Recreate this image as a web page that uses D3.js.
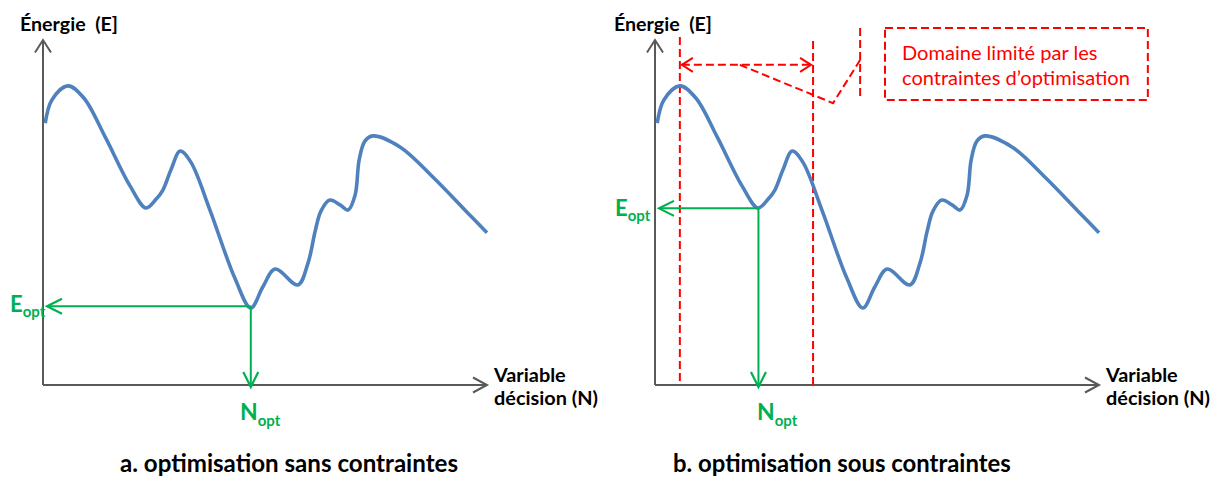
<!DOCTYPE html>
<html>
<head>
<meta charset="utf-8">
<script src="https://cdn.jsdelivr.net/npm/d3@7"></script>
<style>
  html, body { margin: 0; padding: 0; background: #fff; }
  svg { display: block; }
  text { font-family: Lato, "Open Sans", sans-serif; white-space: pre; }
</style>
</head>
<body>
<svg id="chart" width="1219" height="478"></svg>
<script>
// ---- data (N = variable de décision, E = énergie; arbitrary units 0..100) ----
const curveN = [0.5, 2.0, 5.6, 9.2, 14.0, 19.6, 23.2, 25.5, 27.0, 28.8, 30.9, 33.3, 37.6, 43.2, 46.8, 49.5, 52.3, 57.4, 59.7, 61.3, 62.6, 64.6, 66.9, 68.7, 70.3, 71.2, 72.5, 74.3, 80.4, 87.8, 95.5, 100];
const curveE = [75.9, 82.6, 86.7, 83.2, 71.9, 57.7, 51.3, 53.9, 56.5, 62.3, 67.8, 64.6, 50.7, 31.0, 22.3, 28.4, 33.6, 29.0, 35.4, 44.6, 50.4, 53.6, 52.2, 50.7, 55.1, 65.2, 70.7, 72.2, 69.0, 60.3, 50.1, 44.1];

const panels = ["a", "b"];
const panelTitles = ["a. optimisation sans contraintes", "b. optimisation sous contraintes"];
const yAxisLabel = "Énergie  (E]";
const xAxisLabel = ["Variable", "décision (N)"];
const optN = [46.8, 23.3];   // N_opt per panel
const optE = [22.8, 51.2];   // E_opt per panel

// constraint domain (panel b)
const boundN = [5.6, 35.6];
const boundTopE = [100.9, 99.7];
const rangeArrowE = 92.8;
const calloutN = [19.1, 40.1, 46.2];
const calloutE = [92.8, 81.7, 94.2];
const calloutStemN = 46.2;
const calloutStemE = [103.5, 82.6];
const boxN = [51.8, 111.0];
const boxE = [103.5, 82.6];
const boxText = ["Domaine limité par les", "contraintes d’optimisation"];

// ---- layout ----
const originX = [43, 655];
const axisLen = 444;
const yBottom = 385, yTop = 40;
const BLUE = "#4f81bd", GREEN = "#00b050", RED = "#ff0000", AXIS = "#595959";

const svg = d3.select("#chart");

function chevron(g, tx, ty, angle, len, half, color, width) {
  const bx = tx - Math.cos(angle) * len, by = ty - Math.sin(angle) * len;
  const px = -Math.sin(angle) * half, py = Math.cos(angle) * half;
  g.append("path")
    .attr("d", `M${bx + px},${by + py}L${tx},${ty}L${bx - px},${by - py}`)
    .attr("fill", "none").attr("stroke", color).attr("stroke-width", width)
    .attr("stroke-linejoin", "miter");
}

// size a text so that its width matches the reference
function fitText(g, tx, ty, str, target, weight, color) {
  const t = g.append("text").attr("x", tx).attr("y", ty)
    .attr("font-size", 20).attr("font-weight", weight).attr("fill", color).text(str);
  const w = t.node().getComputedTextLength();
  t.attr("font-size", (20 * target / w).toFixed(2));
  return t;
}

panels.forEach((p, i) => {
  const ox = originX[i];
  const x = d3.scaleLinear().domain([0, 100]).range([ox, ox + axisLen]);
  const y = d3.scaleLinear().domain([0, 100]).range([yBottom, yTop]);
  const g = svg.append("g").attr("class", "panel-" + p);

  // axes
  g.append("line").attr("x1", x(0)).attr("x2", x(0)).attr("y1", y(0)).attr("y2", y(100))
    .attr("stroke", AXIS).attr("stroke-width", 2);
  g.append("line").attr("x1", x(0)).attr("x2", x(100)).attr("y1", y(0)).attr("y2", y(0))
    .attr("stroke", AXIS).attr("stroke-width", 2);
  chevron(g, x(0), y(100), -Math.PI / 2, 12.5, 8, AXIS, 2);
  chevron(g, x(100), y(0), 0, 14, 7.5, AXIS, 2);

  // constraint domain (panel b only)
  if (i === 1) {
    const rg = g.append("g").attr("stroke", RED).attr("stroke-width", 2)
      .attr("fill", "none").attr("stroke-dasharray", "8,4");
    boundN.forEach((n, k) => {
      rg.append("line").attr("x1", x(n)).attr("x2", x(n))
        .attr("y1", y(boundTopE[k])).attr("y2", y(0));
    });
    rg.append("line").attr("x1", x(boundN[0]) + 2).attr("x2", x(boundN[1]) - 2)
      .attr("y1", y(rangeArrowE)).attr("y2", y(rangeArrowE));
    chevron(g, x(boundN[0]) + 2, y(rangeArrowE), Math.PI, 11, 7, RED, 2);
    chevron(g, x(boundN[1]) - 2, y(rangeArrowE), 0, 11, 7, RED, 2);
    rg.append("path").attr("d", d3.line()(calloutN.map((n, k) => [x(n), y(calloutE[k])])));
    rg.append("line").attr("x1", x(calloutStemN)).attr("x2", x(calloutStemN))
      .attr("y1", y(calloutStemE[0])).attr("y2", y(calloutStemE[1]));
    rg.append("rect").attr("x", x(boxN[0])).attr("y", y(boxE[0]))
      .attr("width", x(boxN[1]) - x(boxN[0])).attr("height", y(boxE[1]) - y(boxE[0]));
    const b2 = fitText(g, x(boxN[0]) + 17, 85, boxText[1], 228, 400, RED);
    g.append("text").attr("x", x(boxN[0]) + 17).attr("y", 60)
      .attr("font-size", b2.attr("font-size")).attr("fill", RED).text(boxText[0]);
  }

  // energy curve
  const pts = curveN.map((n, k) => [x(n), y(curveE[k])]);
  g.append("path").attr("d", d3.line().curve(d3.curveCatmullRom.alpha(0.5))(pts))
    .attr("fill", "none").attr("stroke", BLUE).attr("stroke-width", 3.6)
    .attr("stroke-linecap", "butt").attr("stroke-linejoin", "round");

  // optimum arrows
  const nx = x(optN[i]), ey = y(optE[i]);
  g.append("line").attr("x1", nx).attr("x2", x(0) + 4).attr("y1", ey).attr("y2", ey)
    .attr("stroke", GREEN).attr("stroke-width", 2);
  chevron(g, x(0) + 4, ey, Math.PI, 15, 7.5, GREEN, 2.2);
  g.append("line").attr("x1", nx).attr("x2", nx).attr("y1", ey).attr("y2", y(0) + 2)
    .attr("stroke", GREEN).attr("stroke-width", 2);
  chevron(g, nx, y(0) + 2, Math.PI / 2, 15, 7.5, GREEN, 2.2);

  // E_opt label
  const eLab = g.append("text").attr("x", i === 0 ? 10 : 615).attr("y", i === 0 ? 312 : 216)
    .attr("fill", GREEN).attr("font-weight", 700).attr("font-size", 22);
  eLab.append("tspan").text("E");
  eLab.append("tspan").attr("font-size", 15).attr("dy", 5).text("opt");
  // N_opt label
  const nLab = g.append("text").attr("x", i === 0 ? 240 : 757).attr("y", 420)
    .attr("fill", GREEN).attr("font-weight", 700).attr("font-size", 23);
  nLab.append("tspan").text("N");
  nLab.append("tspan").attr("font-size", 15).attr("dy", 6).text("opt");

  // axis labels and title
  fitText(g, i === 0 ? 20 : 614, 31, yAxisLabel, 98, 700, "#000");
  const xl2 = fitText(g, x(100) + 7, 405, xAxisLabel[1], 104, 700, "#000");
  g.append("text").attr("x", x(100) + 7).attr("y", 382).attr("font-weight", 700)
    .attr("font-size", xl2.attr("font-size")).attr("fill", "#000").text(xAxisLabel[0]);
  fitText(g, i === 0 ? 120 : 673, 472, panelTitles[i], 338, 700, "#000");
});
</script>
</body>
</html>
